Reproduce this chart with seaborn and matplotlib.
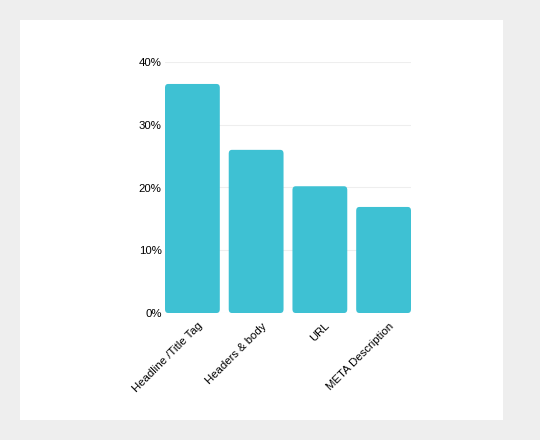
import pandas as pd
import matplotlib
matplotlib.use("Agg")
import matplotlib.pyplot as plt
import matplotlib.transforms as mtransforms
import seaborn as sns
from matplotlib.patches import FancyBboxPatch, Rectangle
from matplotlib.ticker import FuncFormatter

categories = ["Headline /Title Tag", "Headers & body", "URL", "META Description"]
shares = [36.5, 26.0, 20.2, 16.9]

df = pd.DataFrame({"factor": categories, "share": shares})

sns.set_style("white")
plt.rcParams["font.family"] = ["Liberation Sans", "DejaVu Sans"]

fig = plt.figure(figsize=(5.4, 4.4), dpi=100)
fig.patch.set_facecolor("#eeeeee")
# white card behind the chart
card = Rectangle((20 / 540, 20 / 440), 483 / 540, 400 / 440,
                 transform=fig.transFigure, facecolor="white",
                 edgecolor="none", zorder=-1)
fig.patches.append(card)

ax = fig.add_axes([165 / 540, 1 - 313 / 440, 246 / 540, 251 / 440])
ax.set_zorder(2)
ax.set_facecolor("none")
sns.barplot(data=df, x="factor", y="share", color="#3ec1d3", width=0.86,
            saturation=1, ax=ax)

# swap the plain bars for ones with slightly rounded corners
for p in list(ax.patches):
    x, w, h = p.get_x(), p.get_width(), p.get_height()
    rb = FancyBboxPatch((x, 0), w, h, boxstyle="round,pad=0,rounding_size=0.05",
                        mutation_aspect=12, facecolor=p.get_facecolor(),
                        edgecolor="none", zorder=2)
    p.remove()
    ax.add_patch(rb)

ax.set_ylim(0, 40)
ax.set_xlim(-0.43, 3.43)
ax.set_yticks([0, 10, 20, 30, 40])
ax.yaxis.set_major_formatter(FuncFormatter(lambda v, _: f"{v:.0f}%"))
ax.grid(axis="y", color="#eeeeee", linewidth=0.8, zorder=0)
ax.set_axisbelow(True)
for s in ax.spines.values():
    s.set_visible(False)
ax.tick_params(axis="both", length=0, labelsize=8.2, colors="#000000")
ax.tick_params(axis="y", pad=2.5)
ax.set_xlabel("")
ax.set_ylabel("")
shift = mtransforms.ScaledTranslation(5 / 100, -3 / 100, fig.dpi_scale_trans)
for lbl in ax.get_xticklabels():
    lbl.set_rotation(45)
    lbl.set_ha("right")
    lbl.set_rotation_mode("anchor")
    lbl.set_transform(lbl.get_transform() + shift)

fig.savefig("out.png", dpi=100, facecolor=fig.get_facecolor())
